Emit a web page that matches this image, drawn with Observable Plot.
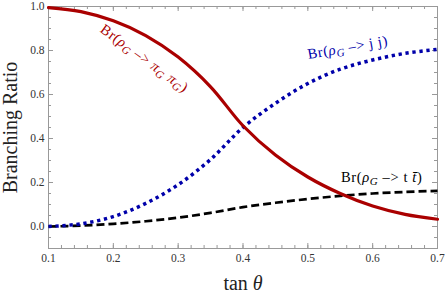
<!DOCTYPE html>
<html><head><meta charset="utf-8">
<script src="https://cdn.jsdelivr.net/npm/d3@7"></script>
<script src="https://cdn.jsdelivr.net/npm/@observablehq/plot@0.6"></script>
<style>
body{margin:0;background:#fff;}
svg, svg text{font-family:"Liberation Serif", serif !important;}
</style></head><body><div id="chart"></div>
<script>
// ---- data ----
const tanTheta = [0.10,0.15,0.20,0.25,0.30,0.35,0.40,0.45,0.50,0.55,0.60,0.65,0.70];
const brPiPi   = [0.995,0.977,0.935,0.868,0.770,0.635,0.458,0.325,0.225,0.15,0.093,0.055,0.033];
const brJJ     = [0.0,0.012,0.045,0.105,0.19,0.305,0.45,0.56,0.65,0.715,0.757,0.787,0.805];
const brTT     = [0.0,0.004,0.012,0.024,0.040,0.062,0.088,0.108,0.125,0.139,0.15,0.157,0.162];

const xTicks = [0.1,0.2,0.3,0.4,0.5,0.6,0.7];
const yTicks = [0.0,0.2,0.4,0.6,0.8,1.0];
const xMinorTicks = d3.range(0, 31).map(i => 0.1 + i * 0.02);
const yMinorTicks = d3.range(0, 23).map(i => -0.1 + i * 0.05);

const labelNames = ["Br(ρG -> πG πG)", "Br(ρG -> j j)", "Br(ρG -> t t̄)"];
// rich-text pieces for each label: [text, style]
const labelPieces = [
  [["Br(",""],["ρ","i"],["G","sub"],[" –> ",""],["π","i"],["G","sub"],[" ",""],["π","i"],["G","sub"],[")",""]],
  [["Br(",""],["ρ","i"],["G","sub"],[" –> ",""],["j",""],[" ",""],["j",""],[")",""]],
  [["Br(",""],["ρ","i"],["G","sub"],[" –> ",""],["t",""],[" ",""],["t\u0304","i"],[")",""]]
];
const labelX = [0.248, 0.5615, 0.614];
const labelY = [0.764, 0.814, 0.223];
const labelAngle = [36, -10, 0];

const seriesColor = ["#aa0000", "#0000aa", "#000000"];

// ---- build tables ----
const rows = tanTheta.map((t, i) => ({t, pipi: brPiPi[i], jj: brJJ[i], tt: brTT[i]}));
const labels = labelNames.map((name, i) => ({name, x: labelX[i], y: labelY[i], a: labelAngle[i], c: seriesColor[i]}));

const W = 445, H = 295, mL = 48, mR = 8, mT = 6, mB = 47;
const innerW = W - mL - mR, innerH = H - mT - mB;
const tickColor = "#999";
const serif = "'Liberation Serif', serif";

const chart = Plot.plot({
  width: W, height: H,
  marginLeft: mL, marginRight: mR, marginTop: mT, marginBottom: mB,
  x: {domain: [0.1, 0.7]},
  y: {domain: [-0.1, 1.0]},
  style: {fontFamily: serif, fontSize: "11.5px", color: "#333", background: "#fff"},
  marks: [
    // ticks (inward, all four sides)
    Plot.tickX(xTicks, {x: d => d, insetTop: innerH - 5, stroke: tickColor}),
    Plot.tickX(xMinorTicks, {x: d => d, insetTop: innerH - 3, stroke: tickColor}),
    Plot.tickX(xTicks, {x: d => d, insetBottom: innerH - 5, stroke: tickColor}),
    Plot.tickX(xMinorTicks, {x: d => d, insetBottom: innerH - 3, stroke: tickColor}),
    Plot.tickY(yTicks, {y: d => d, insetRight: innerW - 5, stroke: tickColor}),
    Plot.tickY(yMinorTicks, {y: d => d, insetRight: innerW - 3, stroke: tickColor}),
    Plot.tickY(yTicks, {y: d => d, insetLeft: innerW - 5, stroke: tickColor}),
    Plot.tickY(yMinorTicks, {y: d => d, insetLeft: innerW - 3, stroke: tickColor}),
    Plot.frame({stroke: tickColor}),
    Plot.axisX(xTicks, {anchor: "bottom", tickSize: 0, tickPadding: 5, tickFormat: d => d.toFixed(1), label: null, fill: "#333", fontSize: 11.5, fontFamily: serif}),
    Plot.axisY(yTicks, {anchor: "left", tickSize: 0, tickPadding: 4, tickFormat: d => d.toFixed(1), label: null, fill: "#333", fontSize: 11.5, fontFamily: serif}),
    // curves
    Plot.line(rows, {x: "t", y: "tt", stroke: seriesColor[2], strokeWidth: 2.7, strokeDasharray: "8,4", strokeLinecap: "butt", curve: "catmull-rom"}),
    Plot.line(rows, {x: "t", y: "jj", stroke: seriesColor[1], strokeWidth: 3.5, strokeDasharray: "3.3,3.7", strokeLinecap: "butt", curve: "catmull-rom"}),
    Plot.line(rows, {x: "t", y: "pipi", stroke: seriesColor[0], strokeWidth: 3.2, curve: "catmull-rom"}),
    // annotations
    Plot.text(labels, {x: "x", y: "y", text: "name", rotate: "a", fill: "c", fontSize: 14.5, fontFamily: serif, className: "ann"}),
    // axis titles
    Plot.text(["Branching Ratio"], {frameAnchor: "left", textAnchor: "middle", lineAnchor: "middle", rotate: -90, dx: -38, fontSize: 20, fill: "#222", fontFamily: serif}),
    Plot.text(["tan θ"], {frameAnchor: "bottom", textAnchor: "middle", lineAnchor: "middle", dy: 34.6, fontSize: 20, fill: "#222", fontFamily: serif, className: "xlab"})
  ]
});

document.getElementById("chart").appendChild(chart);

// rich text for annotations (subscripts / italics)
const svgNS = "http://www.w3.org/2000/svg";
chart.querySelectorAll("g.ann text").forEach((el, i) => {
  const pieces = labelPieces[i];
  el.textContent = "";
  el.setAttribute("letter-spacing", "0.6");
  let inSub = false;
  pieces.forEach(([txt, st]) => {
    const ts = document.createElementNS(svgNS, "tspan");
    ts.textContent = txt;
    if (st === "i") ts.setAttribute("font-style", "italic");
    if (st === "sub") {
      ts.setAttribute("font-style", "italic");
      ts.setAttribute("font-size", "11");
      ts.setAttribute("dy", "3");
      inSub = true;
    } else if (inSub) {
      ts.setAttribute("dy", "-3");
      inSub = false;
    }
    el.appendChild(ts);
  });
});
chart.querySelectorAll("g.xlab text").forEach(el => {
  el.textContent = "tan ";
  const ts = document.createElementNS(svgNS, "tspan");
  ts.setAttribute("font-style", "italic");
  ts.textContent = "θ";
  el.appendChild(ts);
});
</script>
</body></html>
